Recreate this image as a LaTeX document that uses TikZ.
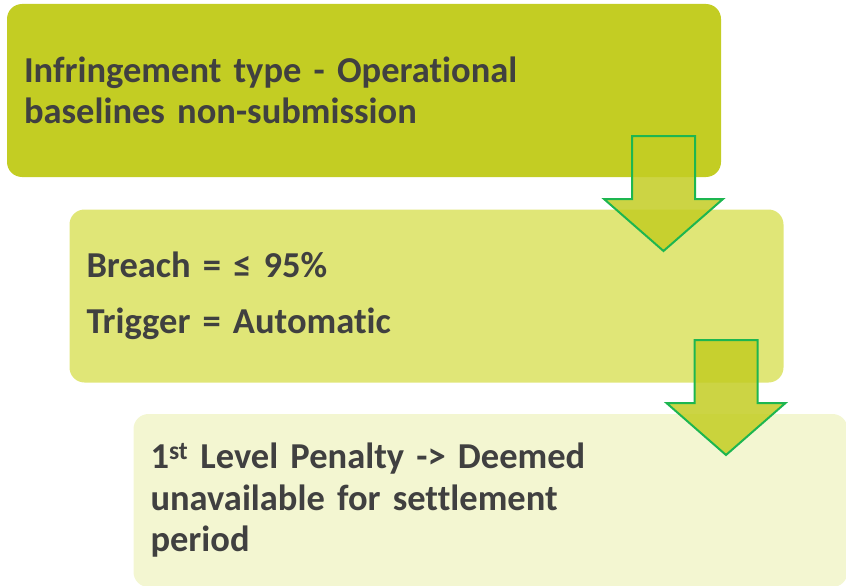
\documentclass[tikz,border=0pt]{standalone}
\usepackage{fontspec}
\setmainfont{Carlito}[Ligatures=NoCommon, WordSpace=0.85]
\definecolor{stepA}{HTML}{C3CD23}
\definecolor{stepB}{HTML}{E0E677}
\definecolor{stepC}{HTML}{F3F6D1}
\definecolor{flowgreen}{HTML}{1DB650}
\definecolor{txtgray}{HTML}{404040}

\begin{document}
\begin{tikzpicture}[x=1pt, y=-1pt,
    stepbox/.style={rectangle, rounded corners=15pt, minimum width=714pt, minimum height=173pt,
      inner xsep=17pt, text width=680pt, align=left, text=txtgray,
      font=\fontsize{36.5}{41.5}\selectfont\bfseries},
    flow/.style={draw=flowgreen, line width=2pt, fill=stepA, fill opacity=0.85}]

   \useasboundingbox (0,0) rectangle (846,586);

   \node [stepbox, fill=stepA] (sType) at (364,90.5)
      {Infringement type - Operational\\baselines non-submission};
   \node [stepbox, fill=stepB] (sBreach) at (426.5,296)
      {Breach = ≤ 95\%\\[14.5pt]Trigger = Automatic};
   \node [stepbox, fill=stepC] (sPenalty) at (490.5,500.5)
      {1\textsuperscript{st} Level Penalty -> Deemed\\unavailable for settlement\\period};

    \foreach \x/\y in {663.5/136, 726/340}
        \draw [flow] (\x-31.5,\y) -- (\x+31.5,\y) -- (\x+31.5,\y+63) -- (\x+59.5,\y+63)
           -- (\x,\y+115) -- (\x-59.5,\y+63) -- (\x-31.5,\y+63) -- cycle;

\end{tikzpicture}
\end{document}
